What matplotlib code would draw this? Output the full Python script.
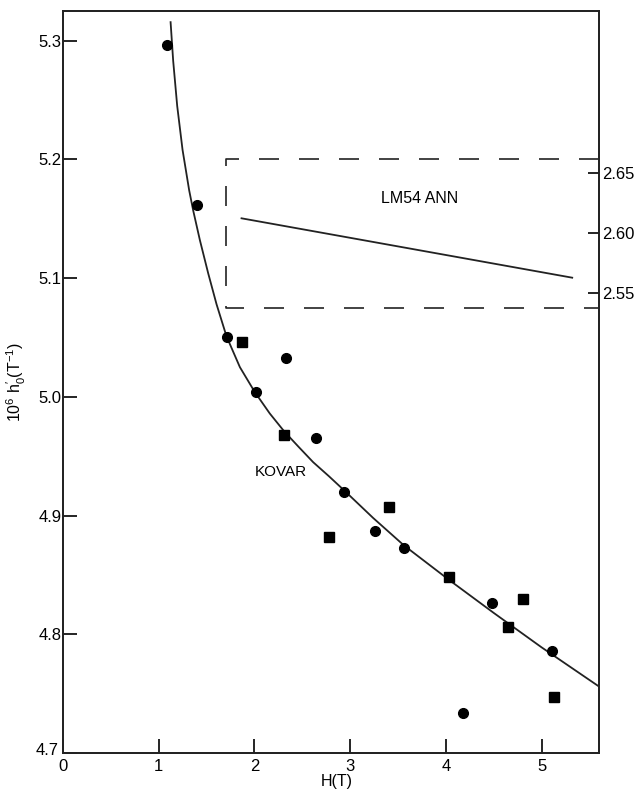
import matplotlib
matplotlib.use("Agg")
import matplotlib.pyplot as plt
from matplotlib.transforms import ScaledTranslation

plt.rcParams['font.family'] = ['Liberation Sans', 'DejaVu Sans']
plt.rcParams['mathtext.default'] = 'regular'

# kovar data, circles and squares
circ_h = [1.09, 1.40, 1.71, 2.015, 2.325, 2.64, 2.94, 3.26, 3.56, 4.18, 4.485, 5.11]
circ_v = [5.296, 5.162, 5.050, 5.004, 5.033, 4.965, 4.920, 4.887, 4.873, 4.734, 4.826, 4.786]
sq_h = [1.865, 2.31, 2.78, 3.41, 4.03, 4.65, 4.81, 5.13]
sq_v = [5.046, 4.968, 4.882, 4.907, 4.848, 4.806, 4.830, 4.747]

# fitted curve, traced
fit_h = [1.124, 1.151, 1.193, 1.249, 1.318, 1.360, 1.430, 1.517, 1.604, 1.708, 1.848, 2.004,
         2.16, 2.31, 2.46, 2.613, 2.78, 2.94, 3.24, 3.56, 4.03, 4.50, 5.00, 5.60]
fit_v = [5.3156, 5.283, 5.245, 5.208, 5.174, 5.157, 5.132, 5.104, 5.078, 5.051, 5.025, 5.004,
         4.986, 4.971, 4.958, 4.945, 4.933, 4.921, 4.898, 4.875, 4.846, 4.818, 4.789, 4.756]

# LM54 ANN line (right axis)
ann_h = [1.865, 5.32]
ann_v = [2.6125, 2.5628]

# inset box (left axis units)
box_h = [5.60, 1.705, 1.705, 5.60]
box_v = [5.200, 5.200, 5.075, 5.075]

xticks = [0, 1, 2, 3, 4, 5]
yticks = [4.7, 4.8, 4.9, 5.0, 5.1, 5.2, 5.3]
rticks = [2.55, 2.60, 2.65]

fig = plt.figure(figsize=(6.41, 7.97), dpi=100)
ax = fig.add_axes([0.0983, 0.0552, 0.8362, 0.931])

ax.plot(fit_h, fit_v, color='#222222', lw=1.3, solid_joinstyle='round')
ax.plot(circ_h, circ_v, 'o', color='black', ms=7)
ax.plot(sq_h, sq_v, 's', color='black', ms=6.5)
ax.plot(box_h, box_v, color='#222222', lw=1.2, dashes=(12, 12), clip_on=False)

ax.text(2.28, 4.937, 'KOVAR', fontsize=11, ha='center', va='center')
ax.text(3.73, 5.167, 'LM54 ANN', fontsize=11.5, ha='center', va='center')

ax.set_xlim(0, 5.60)
ax.set_ylim(4.7, 5.325)
ax.set_xticks(xticks)
ax.set_xticklabels([str(t) for t in xticks])
ax.set_yticks(yticks)
ax.set_yticklabels(['%.1f' % t for t in yticks])
ax.tick_params(direction='in', length=10, width=1.2, labelsize=12, pad=1)
ax.tick_params(axis='x', pad=4)
for s in ax.spines.values():
    s.set_linewidth(1.3)
    s.set_color('#222222')

# nudge the corner label so it does not sit on the "0"
lab47 = ax.get_yticklabels()[0]
lab47.set_transform(lab47.get_transform() + ScaledTranslation(-0.03, 0.04, fig.dpi_scale_trans))

ax.set_xlabel('H(T)', fontsize=11.5)
ax.xaxis.set_label_coords(0.51, -0.028)
ax.set_ylabel(r"10$^6$ h$_0^{\prime}$(T$^{-1}$)", fontsize=11.5)
ax.yaxis.set_label_coords(-0.065, 0.5)

ax2 = ax.twinx()
ax2.set_position(ax.get_position())
ax2.plot(ann_h, ann_v, color='#222222', lw=1.3)
ax2.set_ylim(2.165, 2.786)
ax2.set_yticks(rticks)
ax2.set_yticklabels(['%.2f' % t for t in rticks])
ax2.tick_params(direction='in', length=8, width=1.2, labelsize=12, pad=2)
for s in ax2.spines.values():
    s.set_linewidth(1.3)
    s.set_color('#222222')

fig.savefig('out.png', dpi=100)
